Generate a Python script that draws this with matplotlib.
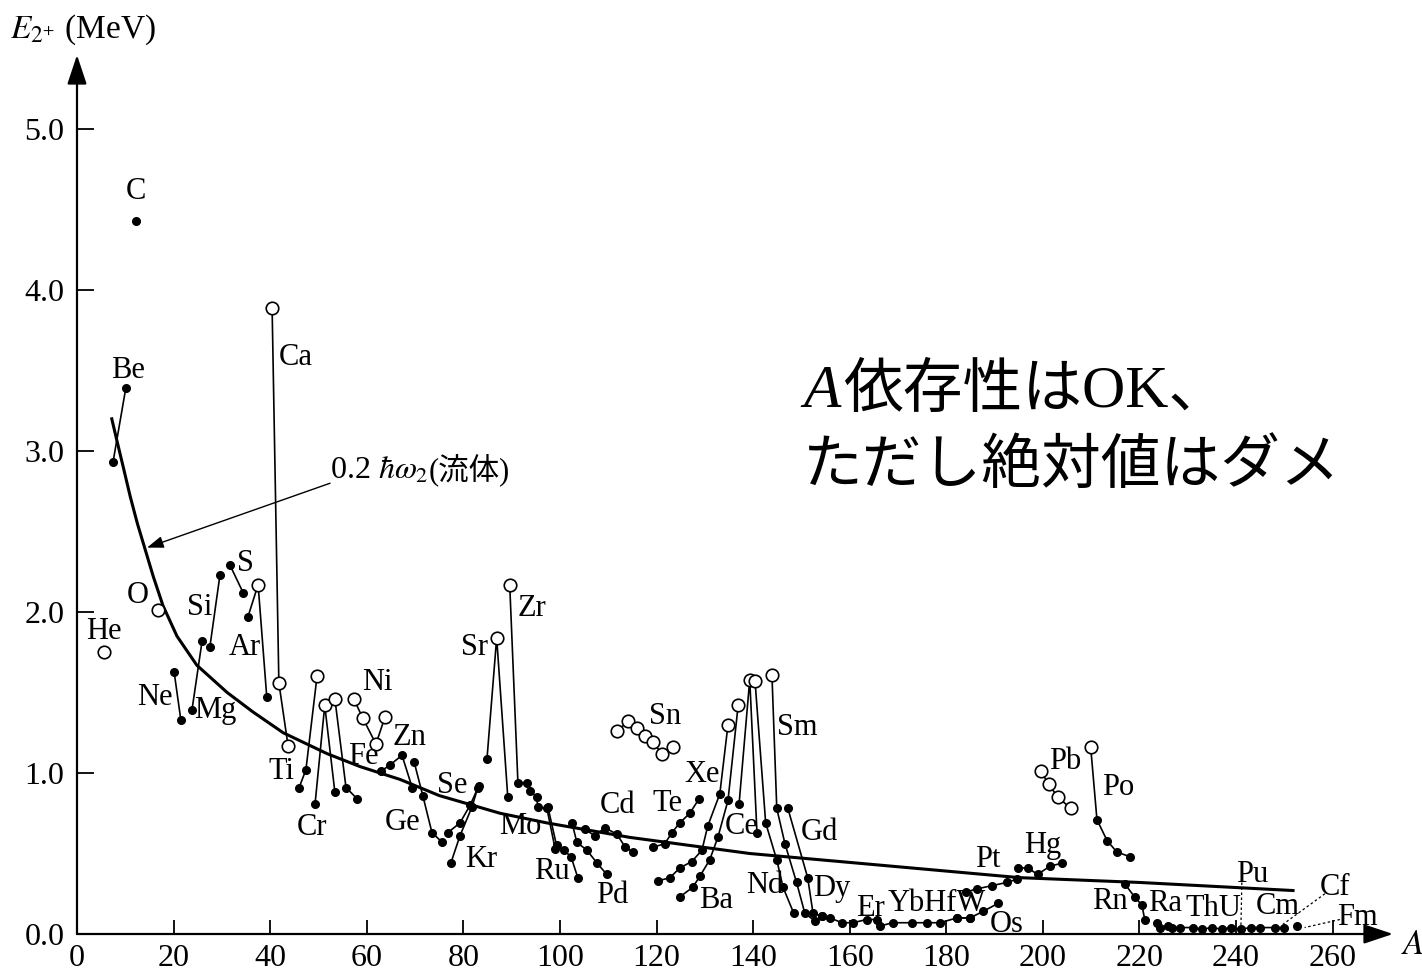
import matplotlib
matplotlib.use("Agg")
import matplotlib.pyplot as plt

plt.rcParams['font.family'] = ['Liberation Serif', 'Noto Sans CJK JP', 'DejaVu Sans']
plt.rcParams['mathtext.fontset'] = 'stix'

# ---------------- data (A, E2+ in MeV, open-circle flags) ----------------
He_A = [5.6]; He_E = [1.75]; He_open = [1]
Be_A = [7.45, 10.1]; Be_E = [2.93, 3.39]; Be_open = [0, 0]
C_A = [12.2]; C_E = [4.43]; C_open = [0]
O_A = [16.8]; O_E = [2.01]; O_open = [1]
Ne_A = [20.1, 21.5]; Ne_E = [1.63, 1.33]; Ne_open = [0, 0]
Mg_A = [23.8, 25.9]; Mg_E = [1.39, 1.82]; Mg_open = [0, 0]
Si_A = [27.5, 29.6]; Si_E = [1.78, 2.23]; Si_open = [0, 0]
S_A = [31.7, 34.4]; S_E = [2.29, 2.12]; S_open = [0, 0]
Ar_A = [35.4, 37.5, 39.3]; Ar_E = [1.97, 2.17, 1.47]; Ar_open = [0, 1, 0]
Ca_A = [40.4, 41.8, 43.7]; Ca_E = [3.89, 1.56, 1.17]; Ca_open = [1, 1, 1]
Ti_A = [46.0, 47.4, 49.7]; Ti_E = [0.91, 1.02, 1.60]; Ti_open = [0, 0, 1]
Cr_A = [49.3, 51.3, 53.4]; Cr_E = [0.81, 1.42, 0.88]; Cr_open = [0, 1, 0]
Fe_A = [53.4, 55.7, 58.0]; Fe_E = [1.46, 0.91, 0.84]; Fe_open = [1, 0, 0]
Ni_A = [57.3, 59.2, 61.9, 63.8]; Ni_E = [1.46, 1.34, 1.18, 1.35]; Ni_open = [1, 1, 1, 1]
Zn_A = [62.9, 64.8, 67.3, 69.4]; Zn_E = [1.01, 1.05, 1.11, 0.91]; Zn_open = [0, 0, 0, 0]
Ge_A = [69.8, 71.6, 73.5, 75.6]; Ge_E = [1.07, 0.86, 0.63, 0.57]; Ge_open = [0, 0, 0, 0]
Se_A = [76.8, 79.3, 81.4, 83.2]; Se_E = [0.63, 0.69, 0.80, 0.92]; Se_open = [0, 0, 0, 0]
Kr_A = [77.4, 79.3, 81.8, 83.0]; Kr_E = [0.44, 0.61, 0.79, 0.91]; Kr_open = [0, 0, 0, 0]
Sr_A = [84.9, 86.9, 89.2]; Sr_E = [1.09, 1.84, 0.85]; Sr_open = [0, 1, 0]
Zr_A = [89.6, 91.3, 93.2]; Zr_E = [2.17, 0.94, 0.94]; Zr_open = [1, 0, 0]
Mo_A = [93.8, 95.2, 95.4, 97.3, 99.0]; Mo_E = [0.89, 0.85, 0.79, 0.78, 0.53]; Mo_open = [0, 0, 0, 0, 0]
Ru_A = [97.5, 99.3, 100.8, 102.3, 103.7]; Ru_E = [0.79, 0.55, 0.52, 0.48, 0.35]; Ru_open = [0, 0, 0, 0, 0]
Pd_A = [102.5, 103.5, 105.6, 107.7, 109.7]; Pd_E = [0.69, 0.57, 0.52, 0.44, 0.37]; Pd_open = [0, 0, 0, 0, 0]
Cd_A = [105.2, 107.2, 109.3, 111.8, 113.5, 115.1]; Cd_E = [0.65, 0.61, 0.66, 0.62, 0.54, 0.51]; Cd_open = [0] * 6
Sn_A = [111.8, 114.1, 115.9, 117.6, 119.3, 121.1, 123.4]; Sn_E = [1.26, 1.32, 1.28, 1.23, 1.19, 1.12, 1.16]; Sn_open = [1] * 7
Te_A = [119.3, 121.7, 123.2, 124.8, 126.9, 128.8]; Te_E = [0.54, 0.56, 0.63, 0.69, 0.75, 0.84]; Te_open = [0] * 6
Xe_A = [120.3, 122.8, 124.8, 127.3, 129.4, 130.6, 133.1, 134.8]
Xe_E = [0.33, 0.35, 0.41, 0.45, 0.52, 0.67, 0.87, 1.30]; Xe_open = [0, 0, 0, 0, 0, 0, 0, 1]
Ba_A = [124.8, 127.5, 129.0, 131.0, 132.7, 134.8, 136.9]
Ba_E = [0.23, 0.29, 0.36, 0.46, 0.60, 0.83, 1.42]; Ba_open = [0, 0, 0, 0, 0, 0, 1]
Ce_A = [137.1, 139.3, 140.8]; Ce_E = [0.81, 1.58, 0.63]; Ce_open = [0, 1, 0]
Nd_A = [140.4, 142.6, 144.9, 146.2, 148.4]; Nd_E = [1.57, 0.69, 0.46, 0.29, 0.13]; Nd_open = [1, 0, 0, 0, 0]
Sm_A = [143.9, 144.9, 146.6, 149.0, 150.7, 152.8]; Sm_E = [1.61, 0.78, 0.56, 0.32, 0.13, 0.08]; Sm_open = [1, 0, 0, 0, 0, 0]
Gd_A = [147.2, 151.3, 152.4, 154.2]; Gd_E = [0.78, 0.35, 0.13, 0.11]; Gd_open = [0, 0, 0, 0]
RE_A = [154.2, 155.9, 158.4, 160.7, 163.5, 165.6, 166.3, 168.9, 172.9, 176.0, 178.7, 182.2, 184.9]
RE_E = [0.11, 0.10, 0.07, 0.07, 0.09, 0.09, 0.05, 0.07, 0.07, 0.07, 0.07, 0.10, 0.10]; RE_open = [0] * 13
Os_A = [182.2, 184.9, 187.6, 190.7]; Os_E = [0.10, 0.10, 0.14, 0.19]; Os_open = [0] * 4
Pt_A = [184.0, 186.3, 189.4, 192.5, 194.6]; Pt_E = [0.26, 0.28, 0.30, 0.32, 0.34]; Pt_open = [0] * 5
Hg_A = [194.8, 196.9, 198.9, 201.4, 203.9]; Hg_E = [0.41, 0.41, 0.37, 0.42, 0.44]; Hg_open = [0] * 5
Pb_A = [199.6, 201.2, 203.1, 205.8]; Pb_E = [1.01, 0.93, 0.85, 0.78]; Pb_open = [1] * 4
Po_A = [209.9, 211.2, 213.3, 215.3, 218.0]; Po_E = [1.16, 0.71, 0.58, 0.51, 0.48]; Po_open = [1, 0, 0, 0, 0]
Rn_A = [217.0, 219.0, 220.5, 221.1]; Rn_E = [0.31, 0.23, 0.18, 0.09]; Rn_open = [0] * 4
Ac_A = [223.6, 224.2, 225.9, 226.7, 228.4, 231.0, 233.0, 235.0, 237.0, 239.0, 241.0, 243.0, 245.0, 248.0, 250.0]
Ac_E = [0.07, 0.04, 0.05, 0.04, 0.04, 0.04, 0.03, 0.04, 0.03, 0.04, 0.03, 0.04, 0.04, 0.04, 0.04]; Ac_open = [0] * 15
Fm_A = [252.6]; Fm_E = [0.05]; Fm_open = [0]

# hydrodynamical 0.2 hbar omega_2 curve
curve_A = [7.2, 8.3, 9.5, 11.0, 12.5, 14.0, 15.8, 17.8, 20.7, 24.8, 31.1, 36.4, 42.7, 51.8, 58.6,
           66.9, 75.0, 87.6, 97.3, 114.5, 139.3, 158.0, 195.2, 220.1, 251.8]
curve_E = [3.20, 3.06, 2.91, 2.72, 2.55, 2.40, 2.22, 2.04, 1.85, 1.67, 1.50, 1.38, 1.25, 1.12, 1.04,
           0.96, 0.86, 0.75, 0.69, 0.60, 0.50, 0.45, 0.35, 0.32, 0.27]

x_ticks = [0, 20, 40, 60, 80, 100, 120, 140, 160, 180, 200, 220, 240, 260]
y_ticks = [0.0, 1.0, 2.0, 3.0, 4.0, 5.0]

label_text = ["He", "C", "Be", "O", "Ne", "Mg", "Si", "S", "Ar", "Ca", "Ti", "Cr", "Fe", "Ni", "Zn",
              "Ge", "Se", "Kr", "Sr", "Zr", "Mo", "Ru", "Pd", "Cd", "Sn", "Te", "Xe", "Ba", "Ce", "Nd",
              "Sm", "Gd", "Dy", "Er", "YbHfW", "Os", "Pt", "Hg", "Pb", "Po", "Rn", "Ra", "ThU",
              "Pu", "Cm", "Cf", "Fm"]
label_A = [5.6, 12.2, 10.6, 12.6, 16.1, 28.6, 25.5, 34.8, 34.8, 45.3, 42.4, 48.7, 59.2, 62.1, 68.9,
           67.5, 77.6, 83.6, 82.4, 94.2, 91.7, 98.3, 110.8, 112.0, 121.7, 122.2, 129.4, 132.3, 137.7, 142.4,
           149.1, 153.8, 156.3, 164.2, 178.0, 192.5, 188.6, 200.0, 204.6, 215.5, 213.9, 225.3, 235.3,
           243.3, 248.7, 260.5, 265.2]
label_E = [1.88, 4.61, 3.50, 2.10, 1.47, 1.39, 2.03, 2.30, 1.78, 3.58, 1.01, 0.66, 1.10, 1.56, 1.22,
           0.69, 0.92, 0.46, 1.78, 2.02, 0.67, 0.39, 0.24, 0.80, 1.35, 0.81, 0.99, 0.21, 0.67, 0.30,
           1.28, 0.63, 0.28, 0.16, 0.19, 0.06, 0.46, 0.55, 1.07, 0.91, 0.20, 0.19, 0.16,
           0.37, 0.17, 0.29, 0.10]

chains = [(He_A, He_E, He_open), (Be_A, Be_E, Be_open), (C_A, C_E, C_open), (O_A, O_E, O_open),
          (Ne_A, Ne_E, Ne_open), (Mg_A, Mg_E, Mg_open), (Si_A, Si_E, Si_open), (S_A, S_E, S_open),
          (Ar_A, Ar_E, Ar_open), (Ca_A, Ca_E, Ca_open), (Ti_A, Ti_E, Ti_open), (Cr_A, Cr_E, Cr_open),
          (Fe_A, Fe_E, Fe_open), (Ni_A, Ni_E, Ni_open), (Zn_A, Zn_E, Zn_open), (Ge_A, Ge_E, Ge_open),
          (Se_A, Se_E, Se_open), (Kr_A, Kr_E, Kr_open), (Sr_A, Sr_E, Sr_open), (Zr_A, Zr_E, Zr_open),
          (Mo_A, Mo_E, Mo_open), (Ru_A, Ru_E, Ru_open), (Pd_A, Pd_E, Pd_open), (Cd_A, Cd_E, Cd_open),
          (Sn_A, Sn_E, Sn_open), (Te_A, Te_E, Te_open), (Xe_A, Xe_E, Xe_open), (Ba_A, Ba_E, Ba_open),
          (Ce_A, Ce_E, Ce_open), (Nd_A, Nd_E, Nd_open), (Sm_A, Sm_E, Sm_open), (Gd_A, Gd_E, Gd_open),
          (RE_A, RE_E, RE_open), (Os_A, Os_E, Os_open), (Pt_A, Pt_E, Pt_open), (Hg_A, Hg_E, Hg_open),
          (Pb_A, Pb_E, Pb_open), (Po_A, Po_E, Po_open), (Rn_A, Rn_E, Rn_open), (Ac_A, Ac_E, Ac_open),
          (Fm_A, Fm_E, Fm_open)]

# ---------------- figure ----------------
W, H = 1422, 975
fig = plt.figure(figsize=(W / 100, H / 100), dpi=100)
ax = fig.add_axes([77 / W, (H - 934) / H, (1393 - 77) / W, (934 - 55) / H])
ax.set_xlim(0, 272.5)
ax.set_ylim(0, 5.46)
for s in ax.spines.values():
    s.set_visible(False)

# axes with arrows
arrow = dict(arrowstyle='-|>,head_length=0.6,head_width=0.2', lw=1.6, color='black',
             mutation_scale=30, shrinkA=0, shrinkB=0)
ax.annotate('', xy=(272.5, 0), xytext=(0, 0), arrowprops=arrow, annotation_clip=False)
ax.annotate('', xy=(0, 5.46), xytext=(0, 0), arrowprops=arrow, annotation_clip=False)

ax.set_xticks(x_ticks)
ax.set_yticks(y_ticks)
ax.set_yticklabels([f"{v:.1f}" for v in y_ticks])
ax.tick_params(axis='x', direction='in', length=10, width=1.3, pad=7, labelsize=23)
ax.tick_params(axis='y', direction='in', length=12, width=1.3, pad=9, labelsize=23)

# fluid curve
ax.plot(curve_A, curve_E, color='black', lw=2.2, zorder=2, solid_joinstyle='round')

# chains
for A, E, op in chains:
    ax.plot(A, E, color='black', lw=1.2, zorder=3, clip_on=False)
    for a, e, o in zip(A, E, op):
        if o:
            ax.plot(a, e, 'o', ms=9, mfc='white', mec='black', mew=1.2, zorder=5, clip_on=False)
        else:
            ax.plot(a, e, 'o', ms=5.5, color='black', zorder=4, clip_on=False)

# element labels
for t, a, e in zip(label_text, label_A, label_E):
    ax.text(a, e, t, fontsize=22, ha='center', va='center', zorder=6)

# leader lines for heavy elements
ax.plot([241.2, 241.0], [0.32, 0.03], color='black', lw=0.9, ls=(0, (2, 2)))
ax.plot([258.4, 249.7], [0.25, 0.06], color='black', lw=0.9, ls=(0, (2, 2)))
ax.plot([261.5, 254.2], [0.09, 0.04], color='black', lw=0.9, ls=(0, (2, 2)))

# fluid label and arrow
t1 = ax.text(52.4, 2.88, r'0.2 $\hbar\omega_2$', fontsize=23, ha='left', va='center')
ax.annotate('', xy=(14.5, 2.40), xytext=(52.4, 2.80),
            arrowprops=dict(arrowstyle='-|>,head_length=0.5,head_width=0.18', lw=1.0,
                            color='black', mutation_scale=20, shrinkA=0, shrinkB=0))
fig.canvas.draw()
bb = t1.get_window_extent()
x_end = ax.transData.inverted().transform((bb.x1, bb.y0))[0]
ax.text(x_end, 2.88, '(流体)', fontsize=22, ha='left', va='center',
        family=['Liberation Serif', 'Noto Sans CJK JP'])

# axis titles
fig.text(10 / W, 1 - 30 / H, r'$E_{2^{+}}$ (MeV)', fontsize=24, ha='left', va='center')
fig.text(1401 / W, 1 - 945 / H, r'$A$', fontsize=25, ha='left', va='center')

# big annotation
fig.text(803 / W, 1 - 392 / H, 'A', fontsize=44, style='italic', family='Liberation Serif',
         ha='left', va='center')
fig.text(843 / W, 1 - 392 / H, '依存性はOK、', fontsize=43,
         family=['Liberation Serif', 'Noto Sans CJK JP'], ha='left', va='center')
fig.text(803 / W, 1 - 466 / H, 'ただし絶対値はダメ', fontsize=43,
         family=['Noto Sans CJK JP'], ha='left', va='center')

fig.savefig('out.png', dpi=100)
